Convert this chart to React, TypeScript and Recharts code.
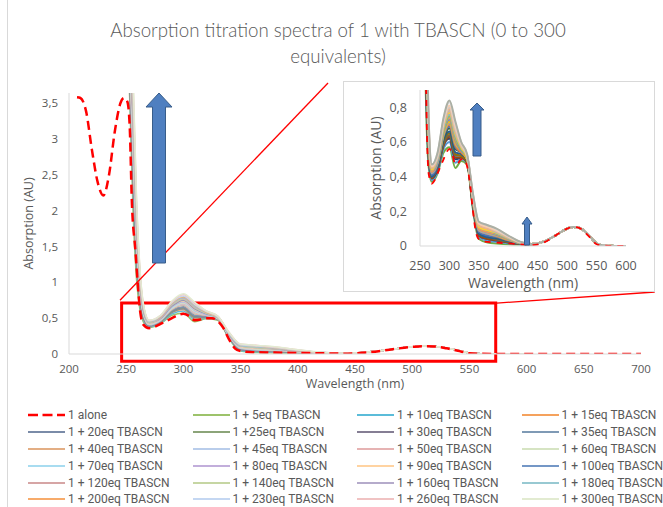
import { LineChart, Line, XAxis, YAxis, ReferenceArea, ReferenceLine } from 'recharts'

// "1 alone" reference spectrum (red dashed)
const aloneWl = [207, 210, 215, 220, 225, 230, 235, 240, 245, 248, 251, 253, 255, 258, 260, 262, 265, 270, 275, 280, 290, 295, 300, 305, 310, 315, 320, 325, 330, 335, 340, 345, 350, 360, 380, 400, 420, 440, 460, 480, 500, 510, 520, 530, 540, 550, 560, 580, 600, 650, 700]
const aloneAbs = [3.58, 3.57, 3.38, 2.85, 2.4, 2.21, 2.5, 3.1, 3.5, 3.57, 3.52, 3.2, 2.1, 1.45, 1.0, 0.62, 0.41, 0.36, 0.38, 0.42, 0.5, 0.54, 0.56, 0.53, 0.47, 0.48, 0.5, 0.5, 0.46, 0.36, 0.2, 0.08, 0.04, 0.025, 0.02, 0.015, 0.01, 0.005, 0.02, 0.06, 0.1, 0.11, 0.105, 0.08, 0.045, 0.01, 0.003, 0, 0, 0, 0]

// titration spectra: the part that differs between additions
const headWl = [250, 253, 256, 259, 262, 266, 270, 280, 290, 300, 310, 320, 330, 340, 350, 365, 380, 400, 420, 440]
// visible band 460-600 nm, the same for every addition
const tailWl = [460, 480, 500, 510, 520, 530, 540, 550, 560, 580, 600]
const tailAbs = [0.025, 0.06, 0.1, 0.11, 0.105, 0.085, 0.05, 0.015, 0.004, 0, 0]

const abs5 = [4.6, 3.6, 2.0, 1.05, 0.62, 0.42, 0.37, 0.42, 0.54, 0.57, 0.45, 0.49, 0.47, 0.21, 0.04, 0.02, 0.015, 0.01, 0.008, 0.01]
const abs10 = [4.7, 3.73, 2.21, 1.18, 0.68, 0.44, 0.38, 0.43, 0.56, 0.6, 0.48, 0.5, 0.48, 0.22, 0.05, 0.03, 0.024, 0.016, 0.01, 0.01]
const abs15 = [4.77, 3.83, 2.36, 1.27, 0.73, 0.46, 0.39, 0.44, 0.58, 0.62, 0.5, 0.51, 0.48, 0.23, 0.06, 0.04, 0.031, 0.02, 0.011, 0.01]
const abs20 = [4.8, 3.86, 2.42, 1.3, 0.75, 0.46, 0.39, 0.45, 0.58, 0.63, 0.51, 0.51, 0.48, 0.23, 0.06, 0.04, 0.034, 0.021, 0.012, 0.01]
const abs25 = [4.83, 3.91, 2.49, 1.35, 0.77, 0.47, 0.4, 0.45, 0.59, 0.64, 0.52, 0.52, 0.49, 0.23, 0.07, 0.05, 0.037, 0.023, 0.012, 0.011]
const abs30 = [4.87, 3.96, 2.57, 1.4, 0.79, 0.48, 0.4, 0.46, 0.6, 0.65, 0.53, 0.52, 0.49, 0.24, 0.07, 0.05, 0.041, 0.025, 0.013, 0.011]
const abs35 = [4.9, 4.0, 2.63, 1.43, 0.81, 0.49, 0.4, 0.46, 0.61, 0.66, 0.54, 0.53, 0.49, 0.24, 0.07, 0.05, 0.043, 0.027, 0.014, 0.011]
const abs40 = [4.97, 4.09, 2.78, 1.52, 0.86, 0.5, 0.41, 0.47, 0.62, 0.68, 0.56, 0.54, 0.49, 0.25, 0.08, 0.06, 0.05, 0.031, 0.015, 0.011]
const abs45 = [5.0, 4.13, 2.84, 1.56, 0.88, 0.51, 0.41, 0.47, 0.63, 0.69, 0.57, 0.54, 0.5, 0.25, 0.08, 0.06, 0.052, 0.032, 0.015, 0.011]
const abs50 = [5.03, 4.18, 2.91, 1.6, 0.9, 0.52, 0.42, 0.48, 0.64, 0.7, 0.58, 0.54, 0.5, 0.25, 0.09, 0.07, 0.056, 0.034, 0.016, 0.011]
const abs60 = [5.07, 4.22, 2.99, 1.65, 0.92, 0.52, 0.42, 0.48, 0.64, 0.71, 0.59, 0.55, 0.5, 0.26, 0.09, 0.07, 0.059, 0.036, 0.017, 0.011]
const abs70 = [5.1, 4.27, 3.06, 1.69, 0.94, 0.53, 0.43, 0.49, 0.65, 0.72, 0.6, 0.55, 0.5, 0.26, 0.1, 0.08, 0.063, 0.038, 0.018, 0.011]
const abs80 = [5.13, 4.31, 3.12, 1.73, 0.96, 0.54, 0.43, 0.49, 0.66, 0.73, 0.61, 0.55, 0.51, 0.26, 0.1, 0.08, 0.065, 0.04, 0.018, 0.011]
const abs90 = [5.17, 4.36, 3.2, 1.77, 0.99, 0.55, 0.43, 0.5, 0.67, 0.74, 0.62, 0.56, 0.51, 0.27, 0.1, 0.08, 0.069, 0.042, 0.019, 0.011]
const abs100 = [5.2, 4.4, 3.27, 1.82, 1.01, 0.55, 0.44, 0.5, 0.67, 0.75, 0.63, 0.56, 0.51, 0.27, 0.11, 0.09, 0.072, 0.044, 0.019, 0.011]
const abs120 = [5.23, 4.44, 3.33, 1.86, 1.03, 0.56, 0.44, 0.5, 0.68, 0.76, 0.64, 0.57, 0.51, 0.27, 0.11, 0.09, 0.075, 0.045, 0.02, 0.011]
const abs140 = [5.27, 4.49, 3.41, 1.9, 1.05, 0.57, 0.44, 0.51, 0.69, 0.77, 0.65, 0.57, 0.51, 0.28, 0.11, 0.09, 0.078, 0.047, 0.021, 0.011]
const abs160 = [5.3, 4.54, 3.48, 1.95, 1.07, 0.58, 0.45, 0.51, 0.7, 0.78, 0.66, 0.58, 0.52, 0.28, 0.12, 0.1, 0.081, 0.049, 0.021, 0.012]
const abs180 = [5.33, 4.57, 3.54, 1.98, 1.09, 0.58, 0.45, 0.52, 0.7, 0.79, 0.67, 0.58, 0.52, 0.28, 0.12, 0.1, 0.084, 0.051, 0.022, 0.012]
const abs200 = [5.37, 4.62, 3.62, 2.03, 1.11, 0.59, 0.46, 0.52, 0.71, 0.8, 0.68, 0.58, 0.52, 0.29, 0.13, 0.11, 0.087, 0.053, 0.022, 0.012]
const abs230 = [5.4, 4.67, 3.69, 2.07, 1.14, 0.6, 0.46, 0.53, 0.72, 0.81, 0.69, 0.59, 0.52, 0.29, 0.13, 0.11, 0.091, 0.055, 0.023, 0.012]
const abs260 = [5.46, 4.75, 3.82, 2.15, 1.18, 0.61, 0.47, 0.54, 0.73, 0.83, 0.71, 0.6, 0.53, 0.3, 0.14, 0.12, 0.097, 0.058, 0.024, 0.012]
const abs300 = [5.5, 4.8, 3.9, 2.2, 1.2, 0.62, 0.47, 0.54, 0.74, 0.84, 0.72, 0.6, 0.53, 0.3, 0.14, 0.12, 0.1, 0.06, 0.025, 0.012]

const titrationAbs = [abs5, abs10, abs15, abs20, abs25, abs30, abs35, abs40, abs45, abs50, abs60, abs70, abs80, abs90, abs100, abs120, abs140, abs160, abs180, abs200, abs230, abs260, abs300]

const titrationLabels = [
  '1 + 5eq TBASCN', '1 + 10eq TBASCN', '1 + 15eq TBASCN', '1 + 20eq TBASCN', '1 +25eq TBASCN',
  '1 + 30eq TBASCN', '1 + 35eq TBASCN', '1 + 40eq TBASCN', '1 + 45eq TBASCN', '1 + 50eq TBASCN',
  '1 + 60eq TBASCN', '1 + 70eq TBASCN', '1 + 80eq TBASCN', '1 + 90eq TBASCN', '1 + 100eq TBASCN',
  '1 + 120eq TBASCN', '1 + 140eq TBASCN', '1 + 160eq TBASCN', '1 + 180eq TBASCN', '1 + 200eq TBASCN',
  '1 + 230eq TBASCN', '1 + 260eq TBASCN', '1 + 300eq TBASCN',
]

// muted palette of the main chart / legend
const mainColors = [
  '#9DC36B', '#5BBCD9', '#F5A25D', '#7A8BA8', '#8CA479', '#857E94', '#7F9AB5', '#E3AE84',
  '#B9CDEB', '#E6B3B3', '#D6E4C3', '#A8DCF0', '#C2AEDB', '#FFD3A1', '#7497C6', '#D6A5A5',
  '#C6D6A3', '#B5ABCB', '#98C9D2', '#F7AB6B', '#C4D7F2', '#F0C3C3', '#E2EBD1',
]
// the pasted zoom chart uses the stronger office colours
const insetColors = [
  '#70AD47', '#5B9BD5', '#264478', '#9E480E', '#636363', '#997300', '#255E91', '#43682B',
  '#4472C4', '#ED7D31', '#A5A5A5', '#FFC000', '#698ED0', '#F1975A', '#8CC168', '#7CAFDD',
  '#FFCD33', '#B7B7B7', '#F4B183', '#C9C9C9', '#F8CBAD', '#DADADA', '#ABAFA4',
]

const mainXTicks = [200, 250, 300, 350, 400, 450, 500, 550, 600, 650, 700]
const mainYTicks = [0, 0.5, 1, 1.5, 2, 2.5, 3, 3.5]
const insetXTicks = [250, 300, 350, 400, 450, 500, 550, 600]
const insetYTicks = [0, 0.2, 0.4, 0.6, 0.8]

const RED = '#FF0000'
const TEXT = '#595959'
const AXIS = '#D9D9D9'
const FONT = "'Open Sans', 'Noto Sans', sans-serif"
const NARROW = "'Liberation Sans Narrow', 'Arial Narrow', 'Roboto', sans-serif"

const aloneData = aloneWl.map((wl, i) => ({ wl, a: aloneAbs[i] }))
const titrationSeries = titrationAbs.map((abs, i) => ({
  name: titrationLabels[i],
  color: mainColors[i],
  insetColor: insetColors[i],
  data: [
    ...headWl.map((wl, j) => ({ wl, a: abs[j] })),
    ...tailWl.map((wl, j) => ({ wl, a: tailAbs[j] })),
  ],
}))

const legendItems = [
  { name: '1 alone', color: RED, dashed: true },
  ...titrationSeries.map((s) => ({ name: s.name, color: s.color, dashed: false })),
]

const comma = (v: number) => String(v).replace('.', ',')

function Arrow({ x, top, bottom, shaft, head, headH }: { x: number; top: number; bottom: number; shaft: number; head: number; headH: number }) {
  const pts = [
    [x, top], [x + head / 2, top + headH], [x + shaft / 2, top + headH], [x + shaft / 2, bottom],
    [x - shaft / 2, bottom], [x - shaft / 2, top + headH], [x - head / 2, top + headH],
  ].map((p) => p.join(',')).join(' ')
  return <polygon points={pts} fill="#4F7FC0" stroke="#385D8A" strokeWidth={1} />
}

export default function App() {
  return (
    <div style={{ position: 'absolute', left: 0, top: 0, width: 663, height: 507, background: '#fff', overflow: 'hidden' }}>
      <div style={{ position: 'absolute', left: 7, top: 0, width: 1, height: 507, background: AXIS }} />

      <div style={{ position: 'absolute', left: 38, top: 17, width: 600, textAlign: 'center', fontFamily: "'Lato', sans-serif", fontWeight: 300, fontSize: 18.7, lineHeight: '26px', color: TEXT }}>
        Absorption titration spectra of 1 with TBASCN (0 to 300
        <br />
        equivalents)
      </div>

      <div style={{ position: 'absolute', left: 0, top: 0 }}>
        <LineChart width={663} height={400} margin={{ top: 93, right: 22, bottom: 8, left: 20 }}>
          <XAxis
            type="number"
            dataKey="wl"
            domain={[200, 700]}
            ticks={mainXTicks}
            allowDataOverflow
            tickLine={false}
            tickMargin={5}
            stroke={AXIS}
            tick={{ fontSize: 11.5, fill: TEXT, fontFamily: FONT }}
            height={38}
            label={{ value: 'Wavelength (nm)', position: 'insideBottom', offset: 4, fill: TEXT, fontSize: 12.5, fontFamily: FONT }}
          />
          <YAxis
            type="number"
            domain={[0, 3.64]}
            ticks={mainYTicks}
            allowDataOverflow
            tickFormatter={comma}
            tickLine={false}
            tickMargin={5}
            stroke={AXIS}
            width={49}
            tick={{ fontSize: 11.5, fill: TEXT, fontFamily: FONT }}
            label={{ value: 'Absorption (AU)', angle: -90, position: 'insideLeft', offset: 9, fill: TEXT, fontSize: 12.5, fontFamily: FONT, style: { textAnchor: 'middle' } }}
          />
          {titrationSeries.map((s) => (
            <Line
              key={s.name}
              data={s.data}
              dataKey="a"
              type="monotone"
              stroke={s.color}
              strokeWidth={1.5}
              dot={false}
              activeDot={false}
              isAnimationActive={false}
            />
          ))}
          <Line
            data={aloneData}
            dataKey="a"
            type="monotone"
            stroke={RED}
            strokeWidth={2.5}
            strokeDasharray="9 5"
            dot={false}
            activeDot={false}
            isAnimationActive={false}
          />
          <ReferenceArea x1={246} x2={573} y1={-0.1} y2={0.71} fill="none" stroke={RED} strokeWidth={3} ifOverflow="visible" />
          <ReferenceLine segment={[{ x: 244.6, y: 0.75 }, { x: 426.4, y: 3.78 }]} stroke={RED} strokeWidth={1.3} ifOverflow="visible" />
          <ReferenceLine segment={[{ x: 574, y: 0.71 }, { x: 712, y: 0.865 }]} stroke={RED} strokeWidth={1.3} ifOverflow="visible" />
        </LineChart>
      </div>

      <div style={{ position: 'absolute', left: 343, top: 81, width: 312, height: 211, boxSizing: 'border-box', border: `1px solid ${AXIS}`, background: '#fff' }} />
      <div style={{ position: 'absolute', left: 343, top: 81 }}>
        <LineChart width={312} height={216} margin={{ top: 9, right: 29, bottom: 7, left: 30 }}>
          <XAxis
            type="number"
            dataKey="wl"
            domain={[250, 600]}
            ticks={insetXTicks}
            allowDataOverflow
            tickLine={false}
            tickMargin={9}
            stroke={AXIS}
            tick={{ fontSize: 12.5, fill: TEXT, fontFamily: FONT }}
            height={44}
            label={{ value: 'Wavelength (nm)', position: 'insideBottom', offset: 2, fill: TEXT, fontSize: 14, fontFamily: FONT }}
          />
          <YAxis
            type="number"
            domain={[0, 0.9]}
            ticks={insetYTicks}
            allowDataOverflow
            tickFormatter={comma}
            tickLine={false}
            tickMargin={7}
            stroke={AXIS}
            width={47}
            tick={{ fontSize: 12.5, fill: TEXT, fontFamily: FONT }}
            label={{ value: 'Absorption (AU)', angle: -90, position: 'insideLeft', offset: 3, fill: TEXT, fontSize: 14, fontFamily: FONT, style: { textAnchor: 'middle' } }}
          />
          {titrationSeries.map((s) => (
            <Line
              key={s.name}
              data={s.data}
              dataKey="a"
              type="monotone"
              stroke={s.insetColor}
              strokeWidth={2}
              dot={false}
              activeDot={false}
              isAnimationActive={false}
            />
          ))}
          <Line
            data={aloneData}
            dataKey="a"
            type="monotone"
            stroke={RED}
            strokeWidth={1.8}
            strokeDasharray="6 6"
            dot={false}
            activeDot={false}
            isAnimationActive={false}
          />
        </LineChart>
      </div>

      <svg width={663} height={507} style={{ position: 'absolute', left: 0, top: 0, pointerEvents: 'none' }}>
        <Arrow x={159} top={93} bottom={263} shaft={13} head={26} headH={14} />
        <Arrow x={477} top={103} bottom={156} shaft={8} head={14} headH={7} />
        <Arrow x={527} top={217} bottom={245} shaft={5} head={10} headH={7} />
      </svg>

      <div style={{ position: 'absolute', left: 28, top: 407, display: 'grid', gridTemplateColumns: 'repeat(4, 164.5px)', gridAutoRows: '16.8px', fontFamily: NARROW, fontSize: 12, color: TEXT }}>
        {legendItems.map((it) => (
          <div key={it.name} style={{ display: 'flex', alignItems: 'center', whiteSpace: 'nowrap' }}>
            <svg width={37} height={6} style={{ marginRight: 3 }}>
              <line x1={0} y1={3} x2={37} y2={3} stroke={it.color} strokeWidth={it.dashed ? 2.7 : 2} strokeDasharray={it.dashed ? '10 4.5' : undefined} />
            </svg>
            <span>{it.name}</span>
          </div>
        ))}
      </div>
    </div>
  )
}
